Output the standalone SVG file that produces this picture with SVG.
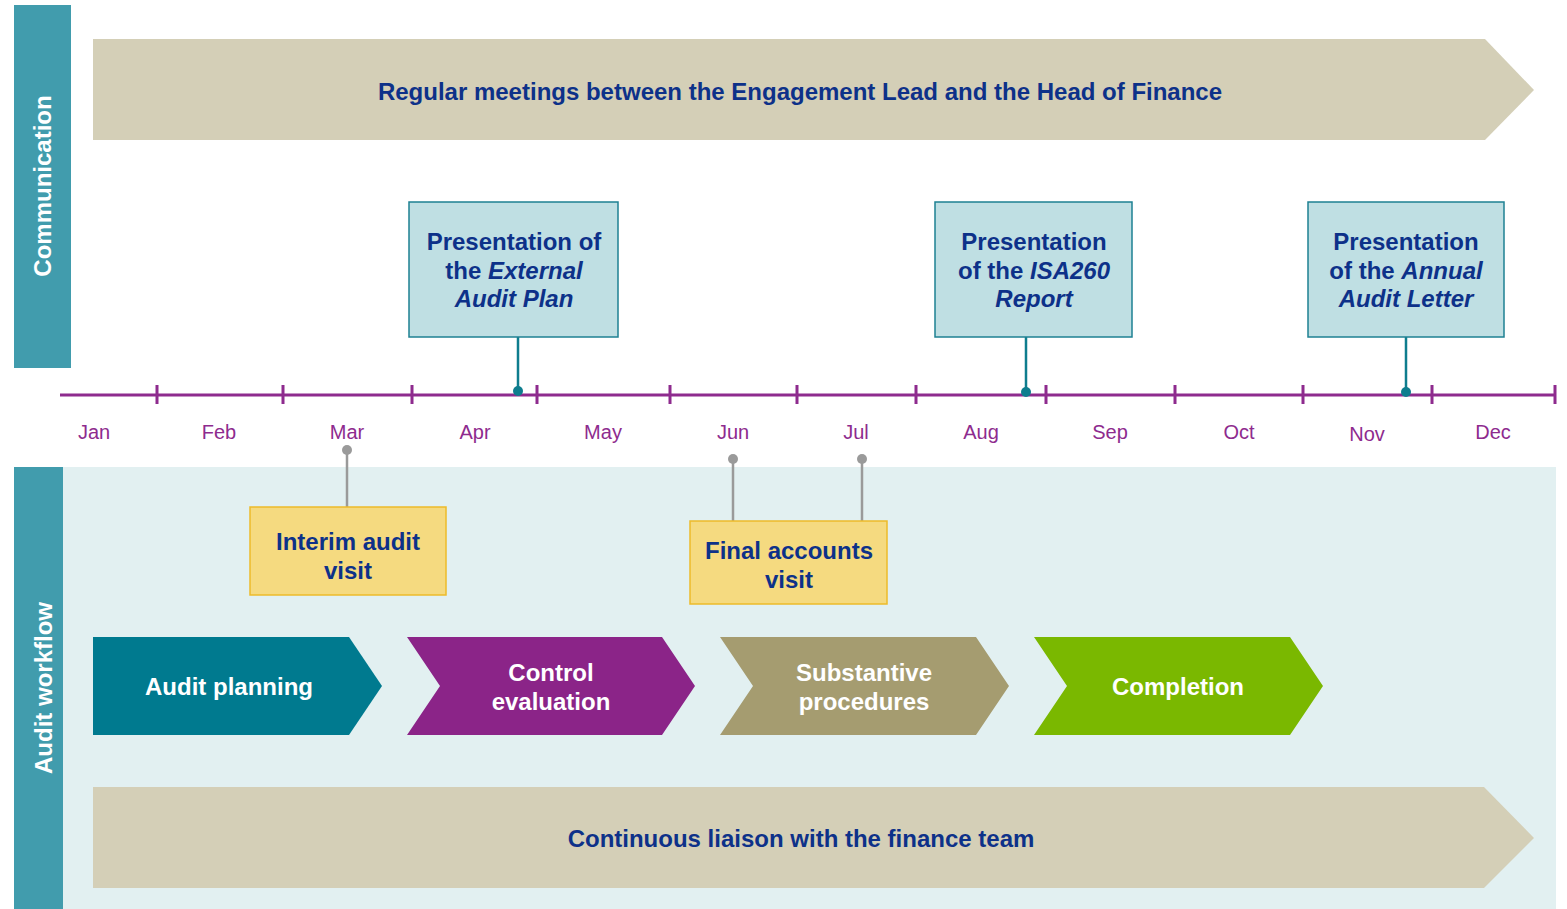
<svg xmlns="http://www.w3.org/2000/svg" width="1567" height="909" viewBox="0 0 1567 909">
<style>
text{font-family:"Liberation Sans",Arial,sans-serif}
.b{font-weight:bold;font-size:24px;text-anchor:middle}
.navy{fill:#0D3189}
.white{fill:#ffffff}
.side{fill:#419CAD}
.banner{fill:#D4CFB7}
.pres{fill:#BFDFE3;stroke:#1E8193;stroke-width:1.5}
.visit{fill:#F5DA80;stroke:#EDBB2A;stroke-width:1.5}
.mon{font-size:20px;fill:#8E2B8E;text-anchor:middle}
.tl{stroke:#8E2B8E;stroke-width:3;fill:none}
.tconn{stroke:#0E7D8E;stroke-width:2.5;fill:none}
.gconn{stroke:#9A9A9A;stroke-width:2.5;fill:none}
</style>
<rect width="1567" height="909" fill="#ffffff"/>
<rect x="63" y="467" width="1493" height="442" fill="#E2F0F1"/>

<g id="communication-label">
<rect class="side" x="14" y="5" width="57" height="363"/>
<text class="b white" transform="translate(51,186) rotate(-90)">Communication</text>
</g>
<g id="workflow-label">
<rect class="side" x="14" y="467" width="49" height="442"/>
<text class="b white" transform="translate(52,688) rotate(-90)">Audit workflow</text>
</g>

<g id="regular-meetings">
<polygon class="banner" points="93,39 1485,39 1534,90 1485,140 93,140"/>
<text class="b navy" x="800" y="100">Regular meetings between the Engagement Lead and the Head of Finance</text>
</g>

<g id="timeline">
<path class="tl" d="M60,395H1556M157,385V404M283,385V404M412,385V404M537,385V404M670,385V404M797,385V404M916,385V404M1046,385V404M1175,385V404M1303,385V404M1432,385V404M1555,385V404"/>
<text class="mon" x="94" y="439">Jan</text>
<text class="mon" x="219" y="439">Feb</text>
<text class="mon" x="347" y="439">Mar</text>
<text class="mon" x="475" y="439">Apr</text>
<text class="mon" x="603" y="439">May</text>
<text class="mon" x="733" y="439">Jun</text>
<text class="mon" x="856" y="439">Jul</text>
<text class="mon" x="981" y="439">Aug</text>
<text class="mon" x="1110" y="439">Sep</text>
<text class="mon" x="1239" y="439">Oct</text>
<text class="mon" x="1367" y="441">Nov</text>
<text class="mon" x="1493" y="439">Dec</text>
</g>

<g id="connectors">
<path class="tconn" d="M518,337V391M1026,337V391M1406,337V391"/>
<circle cx="518" cy="391" r="5" fill="#0E7D8E"/>
<circle cx="1026" cy="392" r="5" fill="#0E7D8E"/>
<circle cx="1406" cy="392" r="5" fill="#0E7D8E"/>
<path class="gconn" d="M347,450V507M733,459V521M862,459V521"/>
<circle cx="347" cy="450" r="5" fill="#9A9A9A"/>
<circle cx="733" cy="459" r="5" fill="#9A9A9A"/>
<circle cx="862" cy="459" r="5" fill="#9A9A9A"/>
</g>

<g id="audit-plan">
<rect class="pres" x="409" y="202" width="209" height="135"/>
<text class="b navy" x="514" y="250">Presentation of</text>
<text class="b navy" x="514" y="279">the <tspan font-style="italic">External</tspan></text>
<text class="b navy" x="514" y="307" font-style="italic">Audit Plan</text>
</g>
<g id="isa260">
<rect class="pres" x="935" y="202" width="197" height="135"/>
<text class="b navy" x="1034" y="250">Presentation</text>
<text class="b navy" x="1034" y="279">of the <tspan font-style="italic">ISA260</tspan></text>
<text class="b navy" x="1034" y="307" font-style="italic">Report</text>
</g>
<g id="annual-letter">
<rect class="pres" x="1308" y="202" width="196" height="135"/>
<text class="b navy" x="1406" y="250">Presentation</text>
<text class="b navy" x="1406" y="279">of the <tspan font-style="italic">Annual</tspan></text>
<text class="b navy" x="1406" y="307" font-style="italic">Audit Letter</text>
</g>

<g id="interim-visit">
<rect class="visit" x="250" y="507" width="196" height="88"/>
<text class="b navy" x="348" y="550">Interim audit</text>
<text class="b navy" x="348" y="579">visit</text>
</g>
<g id="final-visit">
<rect class="visit" x="690" y="521" width="197" height="83"/>
<text class="b navy" x="789" y="559">Final accounts</text>
<text class="b navy" x="789" y="588">visit</text>
</g>

<g id="audit-planning">
<polygon fill="#007A8F" points="93,637 349,637 382,686 349,735 93,735"/>
<text class="b white" x="229" y="695">Audit planning</text>
</g>
<g id="control-evaluation">
<polygon fill="#8B2488" points="407,637 662,637 695,686 662,735 407,735 440,686"/>
<text class="b white" x="551" y="681">Control</text>
<text class="b white" x="551" y="710">evaluation</text>
</g>
<g id="substantive-procedures">
<polygon fill="#A59C70" points="720,637 976,637 1009,686 976,735 720,735 753,686"/>
<text class="b white" x="864" y="681">Substantive</text>
<text class="b white" x="864" y="710">procedures</text>
</g>
<g id="completion">
<polygon fill="#7AB800" points="1034,637 1290,637 1323,686 1290,735 1034,735 1067,686"/>
<text class="b white" x="1178" y="695">Completion</text>
</g>

<g id="continuous-liaison">
<polygon class="banner" points="93,787 1484,787 1534,838 1484,888 93,888"/>
<text class="b navy" x="801" y="847">Continuous liaison with the finance team</text>
</g>
</svg>
